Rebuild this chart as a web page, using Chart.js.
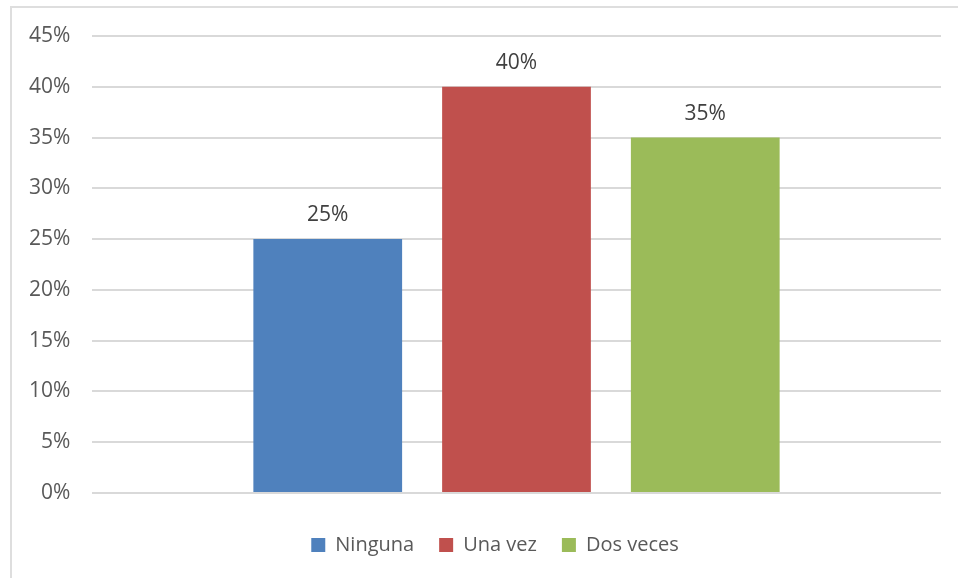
<!DOCTYPE html>
<html>
<head>
<meta charset="utf-8">
<script src="https://cdn.jsdelivr.net/npm/chart.js@4/dist/chart.umd.min.js"></script>
<style>
  body { margin: 0; background: #fff; overflow: hidden; }
  #wrap { position: absolute; left: 10px; top: 6px; width: 968px; height: 590px; border: 2px solid #dedede; }
</style>
</head>
<body>
<div id="wrap"><canvas id="myChart"></canvas></div>
<script>
  // data
  let categories = [''];
  let seriesNames = ['Ninguna', 'Una vez', 'Dos veces'];
  let ninguna = [0.25];
  let unaVez = [0.40];
  let dosVeces = [0.35];
  let colors = ['#4F81BD', '#C0504D', '#9BBB59'];
  let yMax = 0.45;
  let yStep = 0.05;

  function pct(v) {
    return Math.round(v * 100) + '%';
  }

  // labels above each bar
  let valueLabels = {
    id: 'valueLabels',
    afterDatasetsDraw(chart) {
      let ctx = chart.ctx;
      ctx.save();
      ctx.font = '21px "Open Sans"';
      ctx.fillStyle = '#404040';
      ctx.textAlign = 'center';
      ctx.textBaseline = 'middle';
      chart.data.datasets.forEach(function(ds, i) {
        chart.getDatasetMeta(i).data.forEach(function(bar, j) {
          ctx.fillText(pct(ds.data[j]), bar.x, bar.y - 24);
        });
      });
      ctx.restore();
    }
  };

  let ctx = document.getElementById('myChart');
  let myChart = new Chart(ctx, {
    type: 'bar',
    data: {
      labels: categories,
      datasets: [
        { label: seriesNames[0], data: ninguna, backgroundColor: colors[0] },
        { label: seriesNames[1], data: unaVez, backgroundColor: colors[1] },
        { label: seriesNames[2], data: dosVeces, backgroundColor: colors[2] }
      ]
    },
    options: {
      responsive: true,
      maintainAspectRatio: false,
      animation: false,
      categoryPercentage: 0.667,
      barPercentage: 0.788,
      layout: {
        padding: { left: 37, right: 39, top: 28, bottom: 33 }
      },
      plugins: {
        tooltip: { enabled: false },
        legend: {
          position: 'bottom',
          labels: {
            boxWidth: 14,
            boxHeight: 14,
            padding: 25,
            color: '#595959',
            font: { family: '"Open Sans"', size: 20 }
          }
        }
      },
      scales: {
        x: {
          grid: { display: false },
          border: { display: false },
          ticks: { display: false },
          afterFit(scale) {
            scale.height = 17;
          }
        },
        y: {
          min: 0,
          max: yMax,
          border: { display: false },
          grid: { color: '#d9d9d9', lineWidth: 2, drawTicks: false },
          ticks: {
            stepSize: yStep,
            mirror: true,
            crossAlign: 'far',
            padding: -63,
            color: '#595959',
            font: { family: '"Open Sans"', size: 21 },
            callback: function(v) { return pct(v); }
          },
          afterFit(scale) {
            scale.width = 43;
          }
        }
      }
    },
    plugins: [valueLabels]
  });
</script>
</body>
</html>
